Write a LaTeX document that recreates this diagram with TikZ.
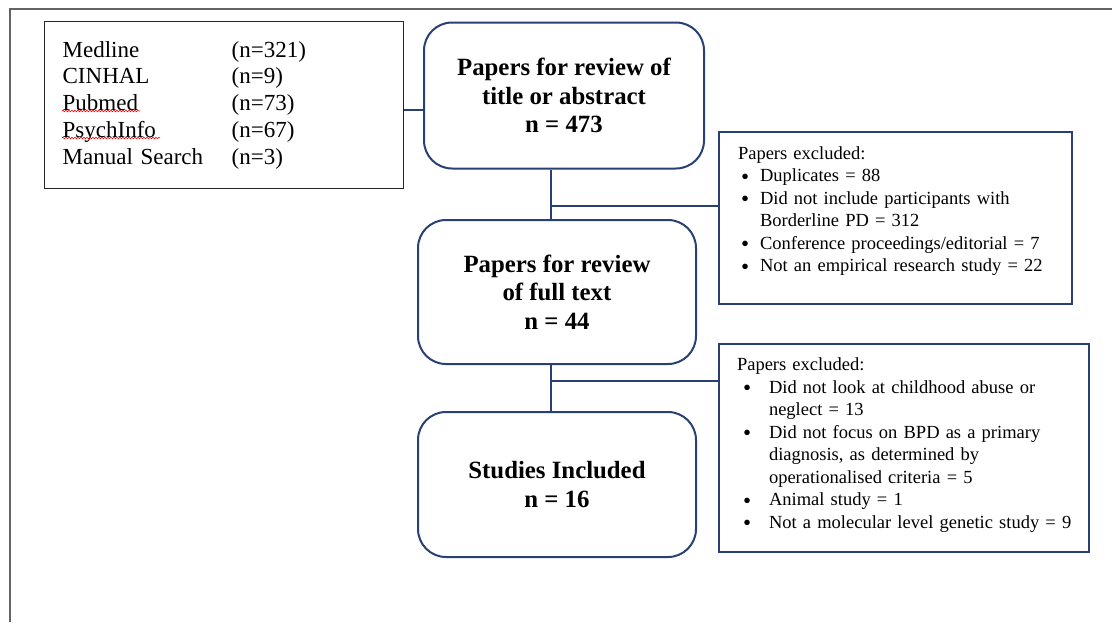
\documentclass[tikz,border=0pt]{standalone}
\usepackage{fontspec}
\setmainfont{Liberation Serif}
\usetikzlibrary{decorations.pathmorphing}
\definecolor{navy}{RGB}{40,64,115}
\definecolor{framegray}{RGB}{100,100,100}
\tikzset{
  flowbox/.style={draw=navy, line width=2pt, rounded corners=28pt, align=center,
    font=\bfseries\fontsize{24.8}{28.5}\selectfont, inner sep=0pt},
  srcbox/.style={draw=black!85, line width=1.3pt, anchor=north west, align=left,
    inner xsep=18pt, inner ysep=0pt, font=\fontsize{23}{26.8}\selectfont},
  exbox/.style={draw=navy, line width=2pt, anchor=north west, align=left,
    inner ysep=0pt, font=\fontsize{18.5}{22.5}\selectfont},
  link/.style={draw=navy, line width=2pt},
  spell/.style={draw=red, line width=0.6pt, decorate,
    decoration={snake, segment length=3pt, amplitude=0.8pt}}
}
\newcommand{\bul}[3]{\mbox{\makebox[#2][l]{\hspace*{#1}\raisebox{-2.5pt}{\fontsize{23}{0}\selectfont\textbullet}}#3}}
\newcommand{\cont}[2]{\mbox{\hspace*{#1}#2}}
\begin{document}
\begin{tikzpicture}[x=1pt,y=-1pt]
\useasboundingbox (0,0) rectangle (1112,622);
\draw[framegray, line width=2.5pt] (10,622) -- (10,9) -- (1112,9);

\node[srcbox, minimum width=359pt, minimum height=167pt, text width=323pt] (src) at (44,21)
{\makebox[169pt][l]{Medline}(n=321)\\
 \makebox[169pt][l]{CINHAL}(n=9)\\
 \makebox[169pt][l]{Pubmed}(n=73)\\
 \makebox[169pt][l]{PsychInfo}(n=67)\\
 \makebox[169pt][l]{Manual Search}(n=3)};

\node[flowbox, minimum width=280pt, minimum height=146pt] (b1) at (564,95.5)
{Papers for review of\\title or abstract\\n = 473};
\node[flowbox, minimum width=278pt, minimum height=144pt] (b2) at (557,292)
{Papers for review\\of full text\\n = 44};
\node[flowbox, minimum width=278pt, minimum height=145pt] (b3) at (557,484.5)
{Studies Included\\n = 16};

\node[exbox, minimum width=353pt, minimum height=172pt, inner xsep=19pt, text width=315pt] (ex1) at (718,131)
{Papers excluded:\\
 \bul{3pt}{22pt}{Duplicates = 88}\\
 \bul{3pt}{22pt}{Did not include participants with}\\
 \cont{22pt}{Borderline PD = 312}\\
 \bul{3pt}{22pt}{Conference proceedings/editorial = 7}\\
 \bul{3pt}{22pt}{Not an empirical research study = 22}\\[-4.5pt]\mbox{}};

\node[exbox, minimum width=370pt, minimum height=208pt, inner xsep=18pt, text width=334pt] (ex2) at (718,343)
{Papers excluded:\\
 \bul{6pt}{32pt}{Did not look at childhood abuse or}\\
 \cont{32pt}{neglect = 13}\\
 \bul{6pt}{32pt}{Did not focus on BPD as a primary}\\
 \cont{32pt}{diagnosis, as determined by}\\
 \cont{32pt}{operationalised criteria = 5}\\
 \bul{6pt}{32pt}{Animal study = 1}\\
 \bul{6pt}{32pt}{Not a molecular level genetic study = 9}\\[-12.5pt]\mbox{}};

\coordinate (j0) at (413,110);
\coordinate (sp) at (551,0);
\coordinate (j1) at (551,206);
\coordinate (j2) at (551,381);

\draw[link] (src.east |- j0) -- (b1.west |- j0);
\draw[link] (b1.south -| sp) -- (b2.north -| sp);
\draw[link] (j1) -- (ex1.west |- j1);
\draw[link] (b2.south -| sp) -- (b3.north -| sp);
\draw[link] (j2) -- (ex2.west |- j2);

\draw[spell] (62,111) -- (140,111);
\draw[spell] (62,138) -- (160,138);
\end{tikzpicture}
\end{document}
